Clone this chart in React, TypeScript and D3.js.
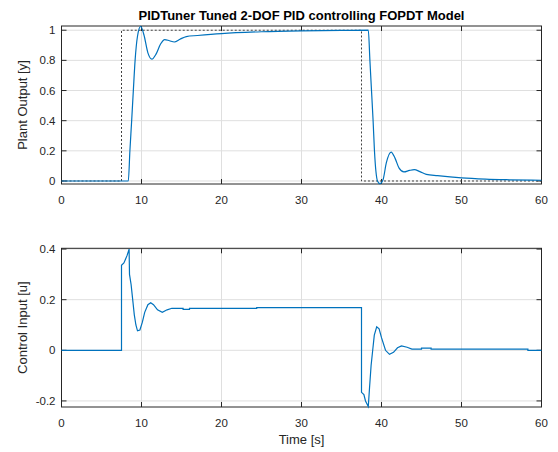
import React from "react";
import * as d3 from "d3";

// plant output y(t)
const outT = [0, 8.35, 8.55, 8.77, 8.98, 9.2, 9.5, 9.9, 10.3, 10.8, 11.3, 11.8, 12.4, 12.9, 13.5, 14.1, 14.8, 15.6, 17, 20, 25, 30, 35, 38.35, 38.55, 38.75, 38.95, 39.12, 39.5, 39.8, 40.2, 40.6, 41.2, 41.7, 42.2, 42.8, 43.5, 44.1, 44.8, 45.6, 47, 50, 53, 56, 60];
const outY = [0, 0, 0.2, 0.4, 0.6, 0.8, 0.96, 1.025, 0.97, 0.85, 0.808, 0.84, 0.91, 0.938, 0.93, 0.922, 0.94, 0.958, 0.965, 0.978, 0.99, 0.996, 0.999, 1.0, 0.8, 0.6, 0.4, 0.2, 0, -0.018, 0.01, 0.12, 0.192, 0.15, 0.085, 0.06, 0.07, 0.075, 0.062, 0.044, 0.035, 0.02, 0.012, 0.008, 0.005];

// setpoint r(t)
const refT = [0, 7.5, 7.5, 37.5, 37.5, 60];
const refY = [0, 0, 1, 1, 0, 0];

// control input u(t)
const ctlT = [0, 7.5, 7.5, 7.8, 8.0, 8.2, 8.45, 8.5, 8.7, 8.9, 9.1, 9.3, 9.5, 9.8, 10.1, 10.4, 10.8, 11.15, 11.5, 12.0, 12.6, 13.2, 13.8, 15.2, 15.2, 16.0, 16.0, 24.4, 24.4, 37.5, 37.5, 37.8, 38.0, 38.35, 38.5, 38.7, 38.9, 39.1, 39.4, 39.7, 40.0, 40.5, 41.0, 41.5, 42.0, 42.5, 43.2, 43.8, 45.0, 45.0, 46.2, 46.2, 58.3, 58.3, 60];
const ctlU = [0, 0, 0.336, 0.345, 0.36, 0.375, 0.4, 0.3, 0.26, 0.2, 0.14, 0.1, 0.077, 0.08, 0.11, 0.15, 0.18, 0.188, 0.18, 0.16, 0.15, 0.16, 0.166, 0.166, 0.162, 0.162, 0.166, 0.166, 0.169, 0.169, -0.166, -0.175, -0.2, -0.222, -0.15, -0.06, 0.0, 0.06, 0.093, 0.085, 0.05, 0.0, -0.016, -0.008, 0.01, 0.017, 0.012, 0.005, 0.005, 0.009, 0.009, 0.005, 0.005, 0, 0];

const xTicks = [0, 10, 20, 30, 40, 50, 60];
const topTicks = [0, 0.2, 0.4, 0.6, 0.8, 1];
const botTicks = [-0.2, 0, 0.2, 0.4];

const W = 558;
const H = 452;
const BLUE = "#0072bd";
const INK = "#262626";
const GRID = "#dfdfdf";
const FONT = "'Liberation Sans', Arial, sans-serif";

const x = d3.scaleLinear().domain([0, 60]).range([61.5, 541.5]);
const yTop = d3.scaleLinear().domain([-0.02, 1.028]).range([184, 26]);
const yBot = d3.scaleLinear().domain([-0.224, 0.403]).range([407, 248.3]);

type Lin = d3.ScaleLinear<number, number>;

function Panel({ y, yTicks, fmt, label, showTime }: { y: Lin; yTicks: number[]; fmt: (v: number) => string; label: string; showTime?: boolean }) {
  const [x0, x1] = x.range();
  const [b, t] = y.range();
  const tk = 5;
  return (
    <g>
      {xTicks.map((v) => (
        <line key={"gx" + v} x1={x(v)} x2={x(v)} y1={t} y2={b} stroke={GRID} strokeWidth={1} />
      ))}
      {yTicks.map((v) => (
        <line key={"gy" + v} x1={x0} x2={x1} y1={y(v)} y2={y(v)} stroke={GRID} strokeWidth={1} />
      ))}
      <rect x={x0} y={t} width={x1 - x0} height={b - t} fill="none" stroke={INK} strokeWidth={1} />
      {xTicks.map((v) => (
        <g key={"tx" + v}>
          <line x1={x(v)} x2={x(v)} y1={b} y2={b - tk} stroke={INK} />
          <line x1={x(v)} x2={x(v)} y1={t} y2={t + tk} stroke={INK} />
          <text x={x(v)} y={b + 20} textAnchor="middle" fontSize={11.5} fill={INK} fontFamily={FONT}>
            {v}
          </text>
        </g>
      ))}
      {yTicks.map((v) => (
        <g key={"ty" + v}>
          <line x1={x0} x2={x0 + tk} y1={y(v)} y2={y(v)} stroke={INK} />
          <line x1={x1} x2={x1 - tk} y1={y(v)} y2={y(v)} stroke={INK} />
          <text x={x0 - 6} y={y(v) + 4} textAnchor="end" fontSize={11.5} fill={INK} fontFamily={FONT}>
            {fmt(v)}
          </text>
        </g>
      ))}
      <text transform={`translate(27,${(b + t) / 2}) rotate(-90)`} textAnchor="middle" fontSize={13} fill={INK} fontFamily={FONT}>
        {label}
      </text>
      {showTime && (
        <text x={(x0 + x1) / 2} y={b + 37} textAnchor="middle" fontSize={13} fill={INK} fontFamily={FONT}>
          Time [s]
        </text>
      )}
    </g>
  );
}

export default function App() {
  const fmt = (v: number) => (v === 0 ? "0" : String(+v.toFixed(1)));

  const refLine = d3
    .line<number>()
    .x((_, i) => x(refT[i]))
    .y((d) => yTop(d))(refY);

  const outLine = d3
    .line<number>()
    .x((_, i) => x(outT[i]))
    .y((d) => yTop(d))
    .curve(d3.curveMonotoneX)(outY);

  const ctlLine = d3
    .line<number>()
    .x((_, i) => x(ctlT[i]))
    .y((d) => yBot(d))(ctlU);

  return (
    <svg width={W} height={H} style={{ position: "absolute", left: 0, top: 0, background: "#fff" }}>
      <rect width={W} height={H} fill="#fff" />
      <Panel y={yTop} yTicks={topTicks} fmt={fmt} label="Plant Output [y]" />
      <Panel y={yBot} yTicks={botTicks} fmt={fmt} label="Control Input [u]" showTime />
      <path d={refLine ?? ""} fill="none" stroke="#404040" strokeWidth={1} strokeDasharray="2,2" />
      <path d={outLine ?? ""} fill="none" stroke={BLUE} strokeWidth={1.2} />
      <path d={ctlLine ?? ""} fill="none" stroke={BLUE} strokeWidth={1.2} />
      <text x={301.5} y={20} textAnchor="middle" fontSize={13} fontWeight="bold" fill="#000" fontFamily={FONT}>
        PIDTuner Tuned 2-DOF PID controlling FOPDT Model
      </text>
    </svg>
  );
}
